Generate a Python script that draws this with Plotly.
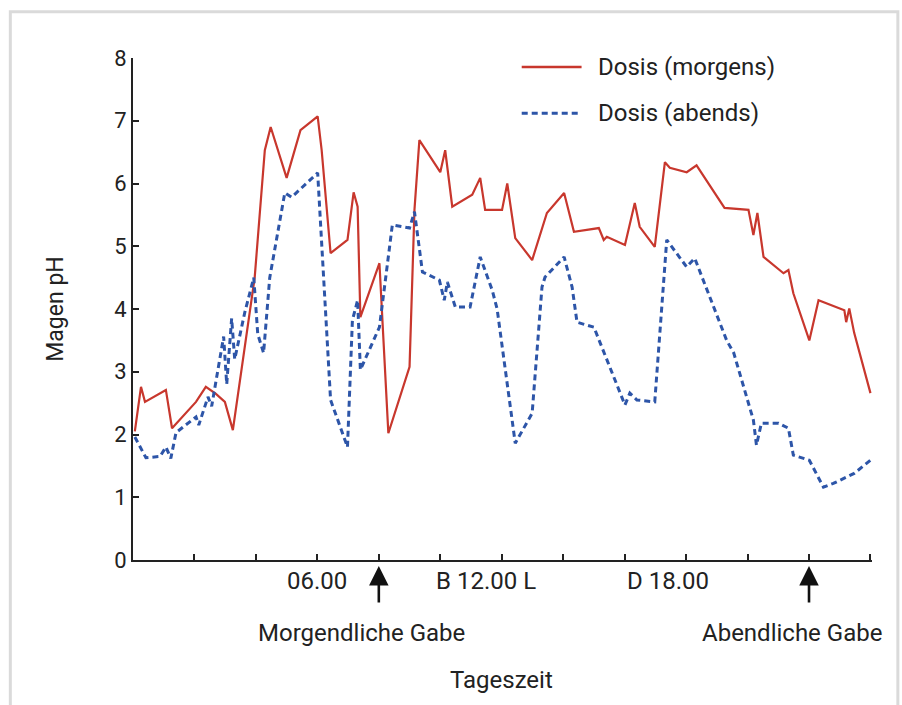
import plotly.graph_objects as go

# Time of day in hours (0 = midnight) and gastric pH readings
morgens_t = [0.06, 0.26, 0.39, 1.07, 1.27, 2.05, 2.37, 2.69, 2.99, 3.25, 3.96, 4.29, 4.48,
             5.00, 5.45, 6.01, 6.14, 6.43, 6.98, 7.18, 7.31, 7.40, 8.02, 8.31, 9.00, 9.16,
             9.32, 10.00, 10.16, 10.39, 11.04, 11.30, 11.46, 12.01, 12.18, 12.44, 12.99,
             13.47, 14.03, 14.35, 15.16, 15.32, 15.42, 16.01, 16.33, 16.49, 16.98, 17.31,
             17.47, 18.02, 18.34, 19.25, 20.03, 20.19, 20.32, 20.52, 21.17, 21.33, 21.49,
             22.01, 22.31, 23.15, 23.21, 23.31, 23.47, 24.00]
morgens_ph = [2.05, 2.76, 2.52, 2.71, 2.10, 2.52, 2.76, 2.65, 2.52, 2.07, 4.50, 6.53, 6.90,
              6.09, 6.85, 7.07, 6.53, 4.89, 5.10, 5.86, 5.63, 3.87, 4.73, 2.02, 3.08, 5.58,
              6.69, 6.18, 6.53, 5.63, 5.82, 6.09, 5.58, 5.58, 6.00, 5.13, 4.78,
              5.53, 5.85, 5.23, 5.29, 5.10, 5.15, 5.02, 5.69, 5.31, 4.99, 6.34,
              6.25, 6.18, 6.29, 5.61, 5.58, 5.18, 5.53, 4.83, 4.57, 4.62, 4.25,
              3.50, 4.14, 3.98, 3.79, 4.01, 3.62, 2.66]

abends_t = [0.06, 0.42, 0.88, 1.07, 1.23, 1.40, 2.05, 2.14, 2.44, 2.56, 2.95, 3.05, 3.21,
            3.31, 3.64, 3.93, 4.06, 4.25, 4.45, 4.94, 5.16, 6.01, 6.43, 6.98, 7.14, 7.31,
            7.40, 8.02, 8.44, 9.00, 9.16, 9.42, 9.97, 10.13, 10.23, 10.49, 10.97, 11.30,
            11.69, 11.85, 12.44, 12.99, 13.31, 13.41, 14.03, 14.29, 14.45, 15.00, 16.01,
            16.17, 16.40, 16.98, 17.37, 17.53, 18.02, 18.28, 19.32, 19.55, 20.19, 20.29,
            20.45, 21.01, 21.33, 21.49, 22.01, 22.47, 22.79, 23.47, 24.00]
abends_ph = [1.96, 1.63, 1.65, 1.80, 1.62, 2.03, 2.28, 2.15, 2.60, 2.45, 3.56, 2.80, 3.85,
             3.20, 3.95, 4.50, 3.60, 3.30, 4.50, 5.85, 5.78, 6.17, 2.55, 1.80, 3.82, 4.14,
             3.03, 3.71, 5.34, 5.29, 5.55, 4.59, 4.46, 4.14, 4.43, 4.03, 4.03, 4.83,
             4.30, 4.00, 1.86, 2.34, 4.35, 4.51, 4.83, 4.35, 3.79, 3.71, 2.47,
             2.66, 2.55, 2.52, 5.10, 4.99, 4.67, 4.81, 3.50, 3.30, 2.23, 1.83,
             2.18, 2.18, 2.10, 1.67, 1.59, 1.16, 1.22, 1.38, 1.59]

x_ticks = list(range(0, 25, 2))
y_ticks = list(range(0, 9))

series_names = ["Dosis (morgens)", "Dosis (abends)"]
# Time labels under the axis: (text, position in hours)
time_labels = [("06.00", 6.0), ("B 12.00 L", 11.5), ("D 18.00", 17.4)]
# Dose times (arrows) and the caption for each: (text, dose hour, caption centre hour)
dose_labels = [("Morgendliche Gabe", 8.0, 7.45), ("Abendliche Gabe", 22.0, 21.45)]

FONT = "Roboto"
RED = "#c8372d"
BLUE = "#2d55a8"
AXIS = "#222222"
TEXT = "#222222"
SIZE = 24

fig = go.Figure()
fig.add_trace(go.Scatter(
    x=morgens_t, y=morgens_ph, mode="lines", name=series_names[0],
    line=dict(color=RED, width=2.2), showlegend=False,
))
fig.add_trace(go.Scatter(
    x=abends_t, y=abends_ph, mode="lines", name=series_names[1],
    line=dict(color=BLUE, width=3, dash="6px,4px"), showlegend=False,
))

annotations = []
shapes = []

# Legend: line sample followed by the series name
legend_rows = [(series_names[0], RED, "solid", 2.5, 0.982),
               (series_names[1], BLUE, "6px,4px", 3, 0.890)]
for name, color, dash, width, ypos in legend_rows:
    shapes.append(dict(type="line", xref="paper", yref="paper",
                       x0=0.526, x1=0.607, y0=ypos, y1=ypos,
                       line=dict(color=color, width=width, dash=dash)))
    annotations.append(dict(x=0.627, y=ypos, xref="paper", yref="paper", text=name,
                            showarrow=False, xanchor="left", yanchor="middle",
                            font=dict(family=FONT, size=SIZE, color=TEXT)))

for text, h in time_labels:
    annotations.append(dict(x=h, y=-0.042, xref="x", yref="paper", text=text,
                            showarrow=False, yanchor="middle", xanchor="center",
                            font=dict(family=FONT, size=SIZE, color=TEXT)))
for text, h, hc in dose_labels:
    # upward arrow pointing at the dose time
    annotations.append(dict(x=h, y=-0.012, xref="x", yref="paper", text="",
                            showarrow=True, arrowhead=2, arrowsize=1.5, arrowwidth=2.6,
                            arrowcolor="#111", ax=0, ay=38))
    annotations.append(dict(x=hc, y=-0.146, xref="x", yref="paper", text=text,
                            showarrow=False, yanchor="middle", xanchor="center",
                            font=dict(family=FONT, size=SIZE, color=TEXT)))
annotations.append(dict(x=0.498, y=-0.239, xref="paper", yref="paper", text="Tageszeit",
                        showarrow=False, yanchor="middle", xanchor="center",
                        font=dict(family=FONT, size=SIZE, color=TEXT)))

# light grey frame around the whole figure
shapes.append(dict(type="rect", xref="paper", yref="paper",
                   x0=-0.166, x1=1.035, y0=-0.31, y1=1.092,
                   line=dict(color="#dadada", width=3), layer="below"))

fig.update_layout(
    width=902, height=705,
    margin=dict(l=133, r=30, t=58, b=145),
    paper_bgcolor="white", plot_bgcolor="white",
    font=dict(family=FONT, size=21, color=TEXT),
    showlegend=False,
    xaxis=dict(range=[0, 24.05], tickvals=x_ticks, showticklabels=False,
               ticks="inside", ticklen=6, tickwidth=2, tickcolor=AXIS,
               showline=True, linecolor=AXIS, linewidth=2, showgrid=False,
               zeroline=False),
    yaxis=dict(range=[0, 8], tickvals=y_ticks, ticks="inside", ticklen=6,
               tickwidth=2, tickcolor=AXIS, showline=True, linecolor=AXIS,
               linewidth=2, showgrid=False, zeroline=False,
               tickfont=dict(family=FONT, size=22, color=TEXT),
               title=dict(text="Magen pH", standoff=44,
                          font=dict(family=FONT, size=23, color=TEXT))),
    annotations=annotations,
    shapes=shapes,
)

fig.write_html("out.html")
